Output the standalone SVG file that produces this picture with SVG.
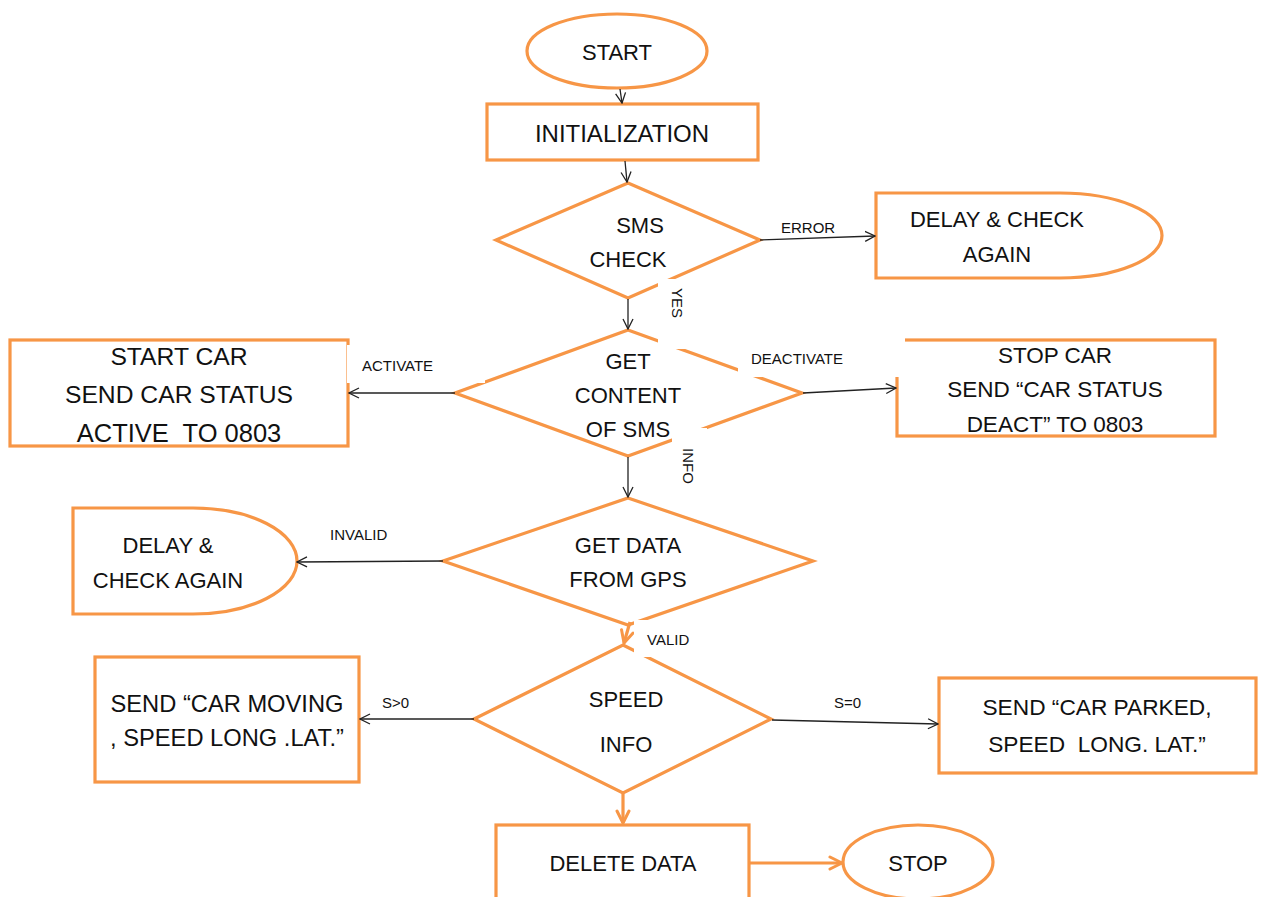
<svg xmlns="http://www.w3.org/2000/svg" width="1262" height="897" viewBox="0 0 1262 897">
<defs>
<style>
.shape{fill:#fff;stroke:#F79646;stroke-width:3.2}
.conn{fill:none;stroke:#222;stroke-width:1.3}
.oconn{fill:none;stroke:#F79646;stroke-width:3.2}
.t{font-family:"Liberation Sans",Arial,sans-serif;font-size:22px;fill:#111;text-anchor:middle}
.lbl{font-family:"Liberation Sans",Arial,sans-serif;font-size:15px;fill:#111}
.box{fill:#fff;stroke:none}
</style>
<marker id="ah" viewBox="0 0 12 12" refX="11" refY="6" markerWidth="12" markerHeight="12" markerUnits="userSpaceOnUse" orient="auto">
<path d="M1,1 L11,6 L1,11" fill="none" stroke="#222" stroke-width="1.3"/>
</marker>
<marker id="oah" viewBox="0 0 16 16" refX="14" refY="8" markerWidth="16" markerHeight="16" markerUnits="userSpaceOnUse" orient="auto">
<path d="M2,2 L14,8 L2,14" fill="none" stroke="#F79646" stroke-width="3" stroke-linecap="round" stroke-linejoin="round"/>
</marker>
</defs>
<rect width="1262" height="897" fill="#fff"/>

<g id="start"><ellipse class="shape" cx="617" cy="51" rx="90" ry="37"/><text class="t" x="617" y="60">START</text></g>
<g id="init"><rect class="shape" x="487" y="104" width="271" height="56"/><text class="t" x="622" y="142" style="font-size:24px">INITIALIZATION</text></g>
<g id="smscheck"><polygon class="shape" points="628,183 760,240 628,298 496,240"/><text class="t" x="640" y="233">SMS</text><text class="t" x="628" y="267">CHECK</text></g>
<g id="delay1"><path class="shape" d="M876,193 H1060 A102,42.5 0 0 1 1060,278 H876 Z"/><text class="t" x="997" y="227">DELAY &amp; CHECK</text><text class="t" x="997" y="262">AGAIN</text></g>
<g id="getcontent"><polygon class="shape" points="628,330 802,393 628,456 455,393"/><text class="t" x="628" y="369">GET</text><text class="t" x="628" y="403">CONTENT</text><text class="t" x="628" y="437">OF SMS</text></g>
<g id="startcar"><rect class="shape" x="10" y="340" width="338" height="106"/><text class="t" x="179" y="365" style="font-size:24.7px">START CAR</text><text class="t" x="179" y="403" style="font-size:24.7px">SEND CAR STATUS</text><text class="t" x="179" y="442" style="font-size:25.5px" xml:space="preserve">ACTIVE  TO 0803</text></g>
<g id="stopcar"><rect class="shape" x="897" y="340" width="318" height="96"/><text class="t" x="1055" y="363" style="font-size:22.5px">STOP CAR</text><text class="t" x="1055" y="397" style="font-size:22.5px">SEND “CAR STATUS</text><text class="t" x="1055" y="432" style="font-size:22.5px">DEACT” TO 0803</text></g>
<g id="getgps"><polygon class="shape" points="628,498 813,561 628,625 443,561"/><text class="t" x="628" y="553">GET DATA</text><text class="t" x="628" y="587">FROM GPS</text></g>
<g id="delay2"><path class="shape" d="M73,508 H193 A104,53 0 0 1 193,614 H73 Z"/><text class="t" x="168" y="553">DELAY &amp;</text><text class="t" x="168" y="588">CHECK AGAIN</text></g>
<g id="speed"><polygon class="shape" points="623,645 771,719 623,793 474,719"/><text class="t" x="626" y="707">SPEED</text><text class="t" x="626" y="752">INFO</text></g>
<g id="moving"><rect class="shape" x="95" y="657" width="264" height="125"/><text class="t" x="227" y="712" style="font-size:23.7px">SEND “CAR MOVING</text><text class="t" x="227" y="746" style="font-size:23.7px">, SPEED LONG .LAT.”</text></g>
<g id="parked"><rect class="shape" x="939" y="678" width="317" height="95"/><text class="t" x="1097" y="715" style="font-size:22.7px">SEND “CAR PARKED,</text><text class="t" x="1097" y="752" style="font-size:22.7px" xml:space="preserve">SPEED  LONG. LAT.”</text></g>
<g id="delete"><rect class="shape" x="496" y="825" width="253" height="100"/><text class="t" x="623" y="871">DELETE DATA</text></g>
<g id="stop"><ellipse class="shape" cx="918" cy="862" rx="75" ry="37"/><text class="t" x="918" y="871">STOP</text></g>

<g id="connectors">
<line class="conn" x1="620" y1="89" x2="622" y2="103" marker-end="url(#ah)"/>
<line class="conn" x1="625" y1="161" x2="627" y2="182" marker-end="url(#ah)"/>
<line class="conn" x1="760" y1="240" x2="875" y2="236" marker-end="url(#ah)"/>
<line class="conn" x1="628" y1="299" x2="628" y2="329" marker-end="url(#ah)"/>
<line class="conn" x1="455" y1="393" x2="349" y2="393" marker-end="url(#ah)"/>
<line class="conn" x1="803" y1="393" x2="896" y2="388" marker-end="url(#ah)"/>
<line class="conn" x1="628" y1="457" x2="628" y2="497" marker-end="url(#ah)"/>
<line class="conn" x1="443" y1="561" x2="297" y2="562" marker-end="url(#ah)"/>
<line class="oconn" x1="630" y1="622" x2="624" y2="643" marker-end="url(#oah)"/>
<line class="conn" x1="474" y1="719" x2="360" y2="719" marker-end="url(#ah)"/>
<line class="conn" x1="772" y1="720" x2="938" y2="724" marker-end="url(#ah)"/>
<line class="oconn" x1="623" y1="794" x2="623" y2="823" marker-end="url(#oah)"/>
<line class="oconn" x1="750" y1="863" x2="842" y2="863" marker-end="url(#oah)"/>
</g>

<g id="labels">
<rect class="box" x="768" y="210" width="97" height="24"/>
<text class="lbl" x="781" y="233">ERROR</text>
<rect class="box" x="658" y="279" width="35" height="70"/>
<text class="lbl" x="677" y="303" text-anchor="middle" dominant-baseline="central" transform="rotate(90 677 303)">YES</text>
<rect class="box" x="347" y="345" width="138" height="38"/>
<text class="lbl" x="362" y="371">ACTIVATE</text>
<rect class="box" x="738" y="337" width="167" height="40"/>
<text class="lbl" x="751" y="364">DEACTIVATE</text>
<rect class="box" x="672" y="428" width="35" height="66"/>
<text class="lbl" x="688" y="466" text-anchor="middle" dominant-baseline="central" transform="rotate(90 688 466)">INFO</text>
<rect class="box" x="318" y="514" width="125" height="38"/>
<text class="lbl" x="330" y="540">INVALID</text>
<rect class="box" x="634" y="620" width="111" height="37"/>
<text class="lbl" x="647" y="645">VALID</text>
<rect class="box" x="370" y="683" width="100" height="28"/>
<text class="lbl" x="382" y="708">S&gt;0</text>
<rect class="box" x="822" y="683" width="58" height="30"/>
<text class="lbl" x="834" y="708">S=0</text>
</g>
</svg>
